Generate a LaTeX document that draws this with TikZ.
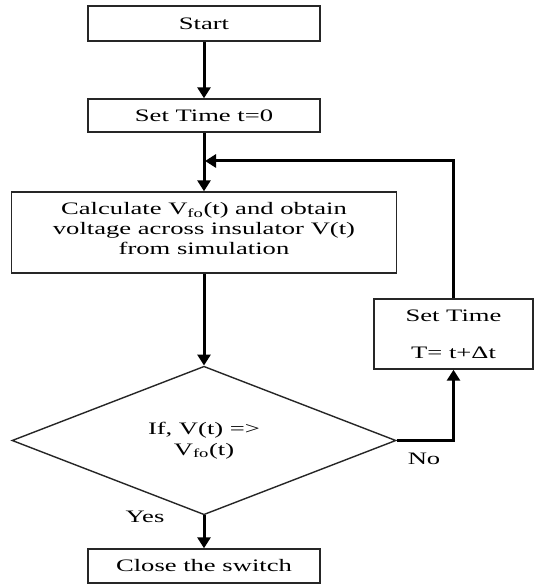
\documentclass[tikz,border=0pt]{standalone}
\usepackage{fontspec}
\setmainfont{Liberation Serif}[FakeStretch=1.52]
\usetikzlibrary{arrows.meta,shapes.geometric}
\tikzset{
  procbox/.style={draw=black!85, line width=1.4pt, rectangle, inner sep=0pt, align=center,
    font=\fontsize{17.5}{20}\selectfont},
  decbox/.style={draw=black!85, line width=1.4pt, diamond, inner sep=0pt, align=center,
    font=\fontsize{17.5}{20.5}\selectfont},
  flow/.style={line width=3pt, -{Triangle[width=13pt,length=11pt]}},
  lbl/.style={font=\fontsize{17.5}{20}\selectfont, inner sep=0pt}
}
\begin{document}
\begin{tikzpicture}[x=1pt,y=-1pt]
\useasboundingbox (0,0) rectangle (535,585);
\fill[white] (0,0) rectangle (535,585);
\node[procbox, minimum width=232pt, minimum height=35pt] (start) at (204,23.5) {Start};
\node[procbox, minimum width=232pt, minimum height=33pt] (set) at (204,115.5) {Set Time t=0};
\node[procbox, minimum width=385pt, minimum height=81pt] (calc) at (204,232.5)
  {Calculate V\textsubscript{fo}(t) and obtain\\voltage across insulator V(t)\\from simulation\rule[-8pt]{0pt}{8pt}};
\node[decbox, minimum width=384pt, minimum height=101pt] (dia) at (204,440.5)
  {If, V(t) =>\\V\textsubscript{fo}(t)};
\node[procbox, minimum width=232pt, minimum height=34pt] (close) at (204,566) {Close the switch};
\node[procbox, minimum width=159pt, minimum height=70pt] (upd) at (453.5,334)
  {Set Time\\[17pt]T= t+Δt};
\node[lbl] (yes) at (145,517) {Yes};
\node[lbl] (no) at (424,459) {No};
\coordinate (join) at (205,161);
\draw[flow] (start.south) -- (set.north);
\draw[flow] (set.south) -- (calc.north);
\draw[flow] (calc.south) -- (dia.north);
\draw[flow] (dia.south) -- (close.north);
\draw[flow] (dia.east) -| (upd.south);
\draw[flow] (upd.north) |- (join);
\end{tikzpicture}
\end{document}
